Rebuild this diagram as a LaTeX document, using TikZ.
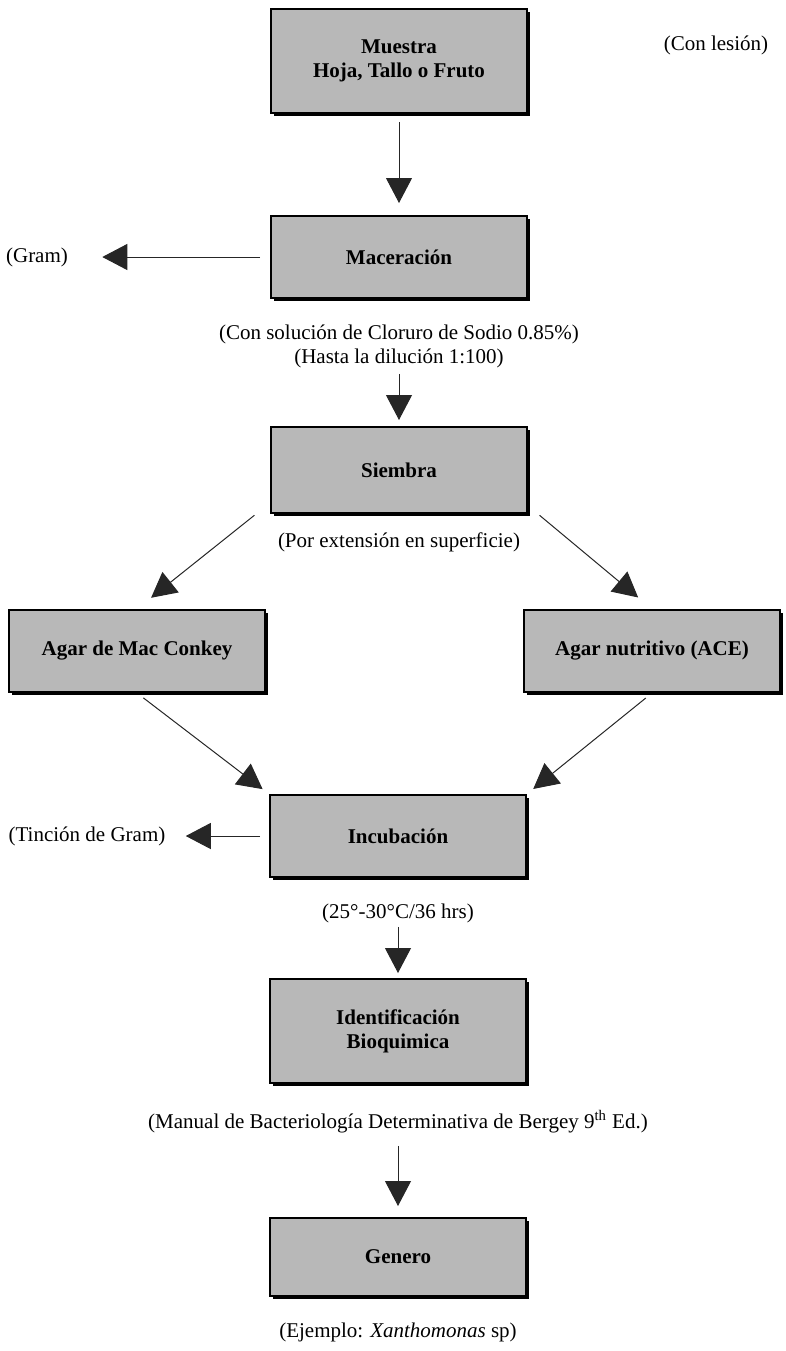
\documentclass[tikz,border=0pt]{standalone}
\usepackage{fontspec}
\setmainfont{Liberation Serif}
\usetikzlibrary{positioning,shadows,arrows.meta}

\begin{document}
\begin{tikzpicture}[x=0.5pt, y=-0.5pt,
						block/.style={rectangle, draw=black, line width=1pt, fill=black!28, minimum width=128pt, minimum height=41pt, align=center, font=\fontsize{10.5}{12}\selectfont\bfseries, drop shadow={shadow xshift=1.5pt, shadow yshift=-1.5pt, fill=black, opacity=1}},
						note/.style={rectangle, inner sep=0pt, align=center, font=\fontsize{10.5}{12}\selectfont},
						flow/.style={draw=black!85, line width=0.5pt, -{Triangle[length=12.5pt, width=13pt]}}
					]
					\useasboundingbox (0,0) rectangle (786,1351);
					% main column
					\node[block, minimum height=52pt] (muestra) at (399,61) {Muestra\\Hoja, Tallo o Fruto};
					\node[block] (maceracion) at (399,257) {Maceración};
					\node[block, minimum height=43pt] (siembra) at (399,470) {Siembra};
					\node[block] (macconkey) at (137,651) {Agar de Mac Conkey};
					\node[block] (nutritivo) at (652,651) {Agar nutritivo (ACE)};
					\node[block] (incubacion) at (398,836) {Incubación};
					\node[block, minimum height=52pt] (identificacion) at (398,1031) {Identificación\\Bioquimica};
					\node[block, minimum height=39pt] (genero) at (398,1257) {Genero};
					% notes
					\node[note] (lesion) at (716,45) {(Con lesión)};
					\node[note] (gram) at (37,257) {(Gram)};
					\node[note] (solucion) at (399,346) {(Con solución de Cloruro de Sodio 0.85\%)\\(Hasta la dilución 1:100)};
					\node[note] (extension) [below=9pt of siembra] {(Por extensión en superficie)};
					\node[note] (tincion) at (87,836) {(Tinción de Gram)};
					\node[note] (temperatura) at (398,913) {(25°-30°C/36 hrs)};
					\node[note] (manual) at (398,1122) {(Manual de Bacteriología Determinativa de Bergey 9\textsuperscript{th} Ed.)};
					\node[note] (ejemplo) at (398,1332) {(Ejemplo: \textit{Xanthomonas} sp)};
					\begin{scope}[flow]
					\draw[shorten <=4pt, shorten >=6pt] (muestra.south) -- (maceracion.north);
					\draw[shorten <=5pt, shorten >=17pt] (maceracion.west) -- (gram.east);
					\draw[shorten <=3pt, shorten >=3pt] (solucion.south) -- (siembra.north);
					\draw[shorten <=1pt, shorten >=9pt] ([xshift=-7pt]siembra.south west) -- (macconkey.north);
					\draw[shorten <=1pt, shorten >=9pt] ([xshift=5pt]siembra.south east) -- (nutritivo.north);
					\draw[shorten <=4pt, shorten >=4pt] (macconkey.south) -- (incubacion.north west);
					\draw[shorten <=4pt, shorten >=4pt] (nutritivo.south) -- (incubacion.north east);
					\draw[shorten <=4.5pt, shorten >=10pt] (incubacion.west) -- (tincion.east);
					\draw[shorten <=2pt, shorten >=2.5pt] (temperatura.south) -- (identificacion.north);
					\draw[shorten <=6pt, shorten >=5.5pt] (manual.south) -- (genero.north);
					\end{scope}
					\end{tikzpicture}
\end{document}
